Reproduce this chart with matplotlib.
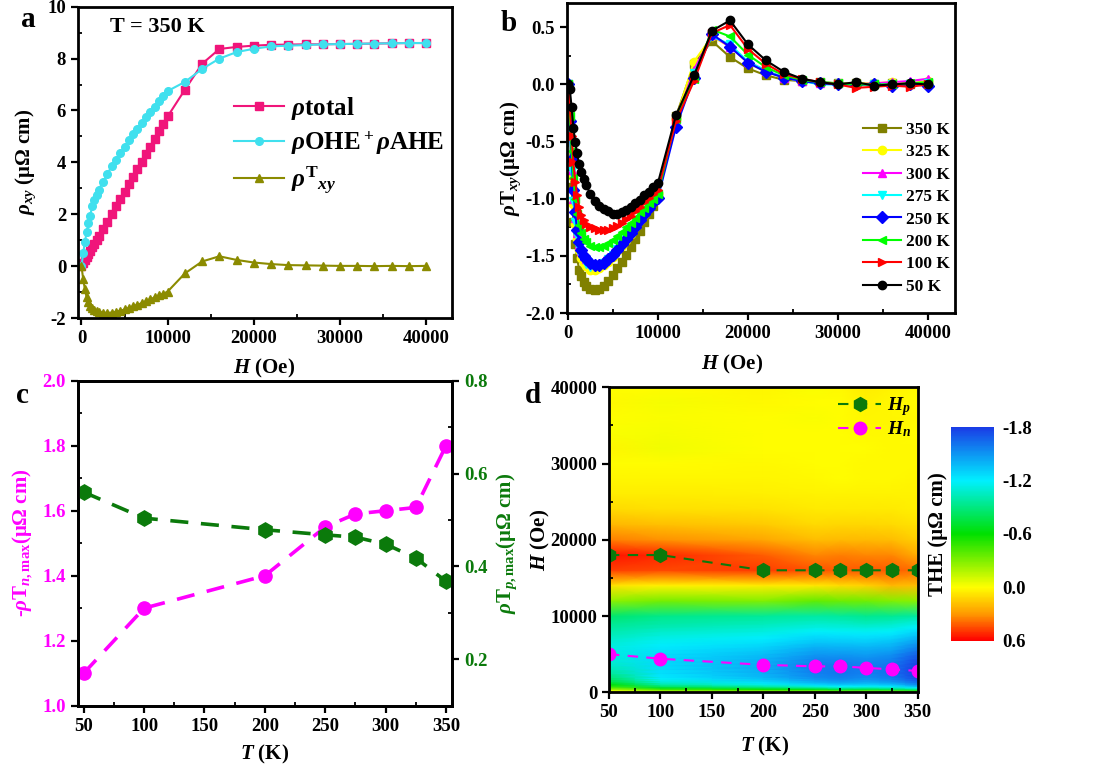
import numpy as np
import matplotlib
matplotlib.use('Agg')
import matplotlib.pyplot as plt
from matplotlib.colors import LinearSegmentedColormap, Normalize
from matplotlib.ticker import MultipleLocator, AutoMinorLocator, FormatStrFormatter

plt.rcParams.update({
    'font.family': 'Liberation Serif',
    'font.weight': 'bold',
    'axes.labelweight': 'bold',
    'font.size': 12,
    'mathtext.fontset': 'custom',
    'mathtext.rm': 'Liberation Serif:bold',
    'mathtext.it': 'Liberation Serif:italic:bold',
    'mathtext.bf': 'Liberation Serif:bold',
    'axes.linewidth': 2,
    'axes.unicode_minus': False,
})

# field grid (Oe): dense below 10 kOe, then 2 kOe steps
H_low = [0, 200, 400, 600, 800, 1000, 1250, 1500, 1750, 2000, 2500, 3000, 3500, 4000,
         4500, 5000, 5500, 6000, 6500, 7000, 7500, 8000, 8500, 9000, 9500, 10000]
H_high = [12000, 14000, 16000, 18000, 20000, 22000, 24000, 26000, 28000, 30000,
          32000, 34000, 36000, 38000, 40000]
H = H_low + H_high

# panel a (350 K)
rho_total = [0, 0.12, 0.23, 0.35, 0.46, 0.58, 0.72, 0.86, 1.0, 1.15, 1.43, 1.72, 2.0, 2.3,
             2.58, 2.87, 3.16, 3.45, 3.73, 4.02, 4.31, 4.6, 4.9, 5.19, 5.48, 5.77,
             6.8, 7.8, 8.37, 8.45, 8.5, 8.53, 8.54, 8.55, 8.55, 8.56, 8.57, 8.58, 8.59, 8.6, 8.6]
rho_ohe_ahe = [0, 0.5, 0.95, 1.3, 1.65, 1.95, 2.3, 2.55, 2.75, 2.95, 3.25, 3.55, 3.85, 4.1,
               4.35, 4.6, 4.85, 5.1, 5.3, 5.5, 5.75, 5.95, 6.15, 6.35, 6.55, 6.75,
               7.1, 7.6, 8.0, 8.25, 8.38, 8.47, 8.5, 8.52, 8.55, 8.56, 8.57, 8.58, 8.59, 8.6, 8.6]

# panel b: topological Hall resistivity per temperature
the_350 = [0, -0.5, -0.9, -1.2, -1.4, -1.52, -1.62, -1.68, -1.73, -1.76, -1.79, -1.80, -1.79, -1.76,
           -1.72, -1.67, -1.61, -1.55, -1.49, -1.42, -1.35, -1.28, -1.2, -1.13, -1.06, -0.98,
           -0.28, 0.18, 0.38, 0.24, 0.14, 0.08, 0.04, 0.03, 0.02, 0.01, 0.01, 0.0, 0.01, 0.0, 0.01]
the_325 = [0, -0.4, -0.8, -1.05, -1.22, -1.35, -1.45, -1.52, -1.56, -1.59, -1.62, -1.62, -1.61, -1.58,
           -1.55, -1.51, -1.46, -1.41, -1.36, -1.31, -1.25, -1.19, -1.13, -1.07, -1.01, -0.95,
           -0.3, 0.2, 0.42, 0.33, 0.19, 0.11, 0.06, 0.03, 0.01, 0.01, 0.01, 0.01, 0.02, 0.01, 0.03]
the_300 = [0, -0.38, -0.75, -1.0, -1.17, -1.3, -1.4, -1.46, -1.5, -1.53, -1.56, -1.57, -1.56, -1.54,
           -1.51, -1.47, -1.43, -1.38, -1.33, -1.28, -1.23, -1.17, -1.11, -1.05, -0.99, -0.94,
           -0.33, 0.13, 0.43, 0.33, 0.2, 0.12, 0.06, 0.03, 0.01, 0.01, 0.0, 0.01, 0.02, 0.03, 0.05]
the_275 = [0, -0.38, -0.76, -1.02, -1.2, -1.33, -1.43, -1.5, -1.54, -1.57, -1.6, -1.6, -1.59, -1.56,
           -1.53, -1.49, -1.44, -1.39, -1.34, -1.29, -1.24, -1.18, -1.12, -1.07, -1.02, -0.97,
           -0.34, 0.1, 0.42, 0.35, 0.2, 0.12, 0.06, 0.03, 0.0, 0.0, 0.0, 0.0, 0.0, 0.0, 0.01]
the_250 = [0, -0.32, -0.65, -0.92, -1.12, -1.27, -1.38, -1.45, -1.5, -1.53, -1.56, -1.58, -1.58, -1.56,
           -1.53, -1.49, -1.45, -1.4, -1.35, -1.3, -1.25, -1.19, -1.13, -1.08, -1.03, -0.99,
           -0.37, 0.06, 0.44, 0.33, 0.19, 0.11, 0.06, 0.03, 0.01, 0.0, 0.0, 0.0, -0.01, 0.0, -0.01]
the_200 = [0, -0.28, -0.58, -0.82, -1.0, -1.13, -1.23, -1.3, -1.35, -1.38, -1.41, -1.42, -1.42, -1.41,
           -1.39, -1.36, -1.33, -1.29, -1.25, -1.21, -1.17, -1.12, -1.08, -1.04, -1.0, -0.96,
           -0.3, 0.05, 0.48, 0.42, 0.26, 0.15, 0.08, 0.04, 0.02, 0.01, 0.0, 0.0, 0.0, 0.01, 0.02]
the_100 = [0, -0.2, -0.45, -0.68, -0.85, -0.97, -1.07, -1.14, -1.19, -1.22, -1.25, -1.26, -1.27, -1.27,
           -1.27, -1.26, -1.24, -1.21, -1.18, -1.15, -1.11, -1.07, -1.03, -0.99, -0.96, -0.92,
           -0.32, 0.03, 0.45, 0.52, 0.31, 0.18, 0.09, 0.05, 0.02, 0.0, -0.03, -0.02, -0.01, -0.02, 0.0]
the_50 = [0, -0.04, -0.2, -0.38, -0.5, -0.6, -0.7, -0.77, -0.83, -0.88, -0.96, -1.02, -1.06, -1.09,
          -1.11, -1.13, -1.13, -1.12, -1.1, -1.07, -1.04, -1.01, -0.97, -0.94, -0.9, -0.86,
          -0.27, 0.08, 0.47, 0.56, 0.35, 0.21, 0.11, 0.05, 0.02, 0.0, 0.02, -0.01, 0.0, 0.01, 0.0]

b_labels = ['350 K', '325 K', '300 K', '275 K', '250 K', '200 K', '100 K', '50 K']
b_series = [the_350, the_325, the_300, the_275, the_250, the_200, the_100, the_50]
b_colors = ['#808000', '#ffff00', '#ff00ff', '#00ffff', '#0000ff', '#00ff00', '#ff0000', '#000000']
b_markers = ['s', 'o', '^', 'v', 'D', '<', '>', 'o']

# panels c, d
T_pts = [50, 100, 200, 250, 275, 300, 325, 350]
rho_n_max = [1.10, 1.30, 1.40, 1.55, 1.59, 1.60, 1.61, 1.80]
rho_p_max = [0.56, 0.504, 0.479, 0.468, 0.463, 0.448, 0.418, 0.368]
H_p = [18000, 18000, 16000, 16000, 16000, 16000, 16000, 16000]
H_n = [5000, 4400, 3600, 3400, 3400, 3200, 3000, 2800]
map_series = [the_50, the_100, the_200, the_250, the_275, the_300, the_325, the_350]

MAG = '#ff00ff'
GRN = '#0b7a0b'
TICK_FS = 13.5
LAB_FS = 15


def style(ax, right_ticks=False):
    ax.tick_params(which='major', direction='out', length=5, width=1.6, labelsize=TICK_FS)
    ax.tick_params(which='minor', direction='in', length=3, width=1.3)
    ax.xaxis.set_minor_locator(AutoMinorLocator(2))
    ax.yaxis.set_minor_locator(AutoMinorLocator(2))
    ax.tick_params(which='both', top=False, right=right_ticks)


fig = plt.figure(figsize=(10.99, 7.71), dpi=100)

# ---- a
ax = fig.add_axes([0.0710, 0.5875, 0.3403, 0.4038])
ax.plot(H, rho_total, '-s', color='#f0157a', ms=5.5, lw=1.5, label=r'$\rho$total')
ax.plot(H, rho_ohe_ahe, '-o', color='#40e0ee', ms=5.5, lw=1.5, label=r'$\rho$OHE$^+$$\rho$AHE')
ax.plot(H, the_350, '-^', color='#8b8b00', ms=6, lw=1.5, label=r'$\rho^{\mathrm{T}}{}_{xy}$')
ax.set_xlim(-400, 43000)
ax.set_ylim(-2, 10)
ax.xaxis.set_major_locator(MultipleLocator(10000))
ax.yaxis.set_major_locator(MultipleLocator(2))
style(ax)
ax.set_xlabel(r'$H$ (Oe)', fontsize=LAB_FS)
ax.set_ylabel(r'$\rho_{xy}$ (μΩ cm)', fontsize=LAB_FS)
ax.xaxis.set_label_coords(0.497, -0.125)
ax.yaxis.set_label_coords(-0.107, 0.5)
ax.text(0.085, 0.935, 'T = 350 K', transform=ax.transAxes, fontsize=16, va='center')
ax.legend(loc='upper left', bbox_to_anchor=(0.39, 0.75), frameon=False, fontsize=18,
          handlelength=2.0, handletextpad=0.3, labelspacing=0.3, borderaxespad=0)
fig.text(0.026, 0.975, 'a', fontsize=21, va='center', ha='center')

# ---- b
ax = fig.add_axes([0.5156, 0.594, 0.3533, 0.4017])
for ys, lab, c, m in zip(b_series, b_labels, b_colors, b_markers):
    ax.plot(H, ys, '-', marker=m, color=c, ms=6, lw=1.5, label=lab)
ax.set_xlim(-150, 43000)
ax.set_ylim(-2.0, 0.71)
ax.xaxis.set_major_locator(MultipleLocator(10000))
ax.yaxis.set_major_locator(MultipleLocator(0.5))
ax.yaxis.set_major_formatter(FormatStrFormatter('%.1f'))
style(ax)
ax.set_xlabel(r'$H$ (Oe)', fontsize=LAB_FS)
ax.set_ylabel(r'$\rho$T$_{xy}$(μΩ cm)', fontsize=LAB_FS)
ax.xaxis.set_label_coords(0.426, -0.129)
ax.yaxis.set_label_coords(-0.1125, 0.5)
ax.legend(loc='upper left', bbox_to_anchor=(0.745, 0.64), frameon=False, fontsize=12.5,
          handlelength=2.2, handletextpad=0.3, labelspacing=0.36, borderaxespad=0)
fig.text(0.463, 0.97, 'b', fontsize=21, va='center', ha='center')

# ---- c
ax = fig.add_axes([0.0707, 0.0847, 0.3406, 0.4215])
ax.plot(T_pts, rho_n_max, 'o', ls=(0, (5, 3.5)), color=MAG, ms=9.5, lw=2.6)
ax.set_xlim(45, 355)
ax.set_ylim(1.0, 2.0)
ax.xaxis.set_major_locator(MultipleLocator(50))
ax.yaxis.set_major_locator(MultipleLocator(0.2))
ax.yaxis.set_major_formatter(FormatStrFormatter('%.1f'))
style(ax)
ax.tick_params(axis='y', labelcolor=MAG)
ax.set_xlabel(r'$T$ (K)', fontsize=LAB_FS)
ax.set_ylabel(r'-$\rho$T$_{n\mathrm{,max}}$(μΩ cm)', fontsize=LAB_FS, color=MAG)
ax.xaxis.set_label_coords(0.5, -0.115)
ax.yaxis.set_label_coords(-0.114, 0.5)
ax2 = ax.twinx()
ax2.plot(T_pts, rho_p_max, 'h', ls=(0, (5, 3.5)), color=GRN, ms=11, lw=2.6)
ax2.set_ylim(0.1, 0.8)
ax2.yaxis.set_major_locator(MultipleLocator(0.2))
ax2.yaxis.set_minor_locator(AutoMinorLocator(2))
ax2.yaxis.set_major_formatter(FormatStrFormatter('%.1f'))
ax2.tick_params(which='major', direction='out', length=5, width=1.6, labelsize=TICK_FS, labelcolor=GRN)
ax2.tick_params(which='minor', direction='in', length=3, width=1.3)
ax2.set_ylabel(r'$\rho$T$_{p\mathrm{,max}}$(μΩ cm)', fontsize=LAB_FS, color=GRN)
ax2.yaxis.set_label_coords(1.114, 0.5)
fig.text(0.02, 0.487, 'c', fontsize=21, va='center', ha='center')

# ---- d
cmap = LinearSegmentedColormap.from_list('the', [
    (0.0, '#1a3ce6'), (0.25, '#00f0ff'), (0.5, '#00e000'),
    (0.75, '#ffff00'), (0.875, '#ff9a00'), (1.0, '#ff0000')])
ax = fig.add_axes([0.5541, 0.1021, 0.2809, 0.3956])
Tg, Hg = np.meshgrid(T_pts, H)
Z = np.array(map_series).T
mesh = ax.pcolormesh(Tg, Hg, Z, cmap=cmap, norm=Normalize(-1.8, 0.6), shading='gouraud')
ax.plot(T_pts, H_p, 'h', ls=(0, (5, 4)), color=GRN, ms=10, lw=1.5, label=r'$H_p$')
ax.plot(T_pts, H_n, 'o', ls=(0, (5, 4)), color=MAG, ms=9, lw=1.5, label=r'$H_n$')
ax.set_xlim(50, 350)
ax.set_ylim(0, 40000)
ax.xaxis.set_major_locator(MultipleLocator(50))
ax.yaxis.set_major_locator(MultipleLocator(10000))
style(ax)
ax.set_xlabel(r'$T$ (K)', fontsize=LAB_FS)
ax.set_ylabel(r'$H$ (Oe)', fontsize=LAB_FS)
ax.xaxis.set_label_coords(0.505, -0.14)
ax.yaxis.set_label_coords(-0.186, 0.5)
ax.legend(loc='upper right', bbox_to_anchor=(1.01, 1.005), frameon=False, fontsize=14,
          handlelength=2.2, handletextpad=0.3, labelspacing=0.05, borderaxespad=0.1)
fig.text(0.485, 0.487, 'd', fontsize=21, va='center', ha='center')

cax = fig.add_axes([0.8653, 0.169, 0.0391, 0.2768])
cb = fig.colorbar(mesh, cax=cax)
cb.set_ticks([-1.8, -1.2, -0.6, 0.0, 0.6])
cb.ax.yaxis.set_major_formatter(FormatStrFormatter('%.1f'))
cb.ax.invert_yaxis()
cb.outline.set_visible(False)
cb.ax.tick_params(length=0, labelsize=TICK_FS, pad=6)
cb.ax.yaxis.set_label_position('left')
cb.set_label('THE (μΩ cm)', fontsize=LAB_FS)
cb.ax.yaxis.set_label_coords(-0.07, 0.5)

fig.savefig('out.png', dpi=100)
